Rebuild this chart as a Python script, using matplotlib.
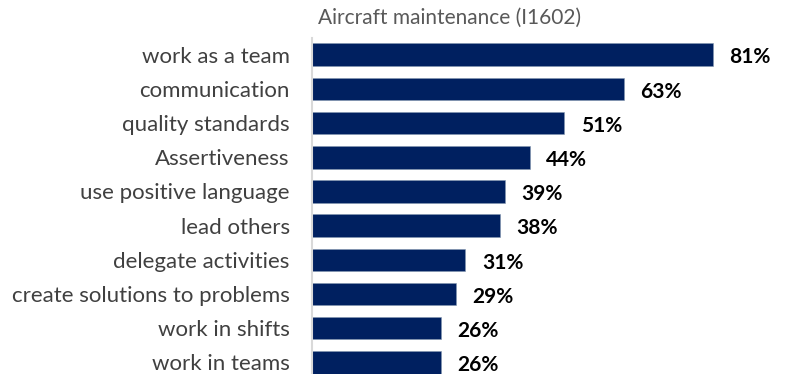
import matplotlib
matplotlib.use("Agg")
import matplotlib.pyplot as plt

# chart data
categories = ["work as a team", "communication", "quality standards", "Assertiveness",
              "use positive language", "lead others", "delegate activities",
              "create solutions to problems", "work in shifts", "work in teams"]
values = [81, 63, 51, 44, 39, 38, 31, 29, 26, 26]
title = "Aircraft maintenance (I1602)"

plt.rcParams['font.family'] = ['Lato', 'DejaVu Sans']

fig = plt.figure(figsize=(7.85, 3.74), dpi=100)
ax = fig.add_axes([312 / 785, 0, 1 - 312 / 785, (374 - 38) / 374])

pos = list(range(len(categories)))
ax.barh(pos, values, height=0.66, color="#002060", edgecolor="#8497b0", linewidth=0.4)

for p, v in zip(pos, values):
    ax.text(v + 3.3, p + 0.08, f"{v}%", va="center", ha="left",
            fontsize=15, fontweight="bold", color="black")

ax.set_xlim(0, 473 / 4.95)
ax.set_ylim(9.34, -0.49)
ax.set_yticks(pos)
ax.set_yticklabels(categories, fontsize=16, color="#404040")
ax.tick_params(axis="y", length=0, pad=16)
ax.set_xticks([])
for s in ["top", "right", "bottom"]:
    ax.spines[s].set_visible(False)
ax.spines["left"].set_color("#d9d9d9")
ax.spines["left"].set_linewidth(1.5)

fig.text(450 / 785, 1 - 18 / 374, title, ha="center", va="center",
         fontsize=15, color="#595959")

fig.savefig("out.png", dpi=100)
